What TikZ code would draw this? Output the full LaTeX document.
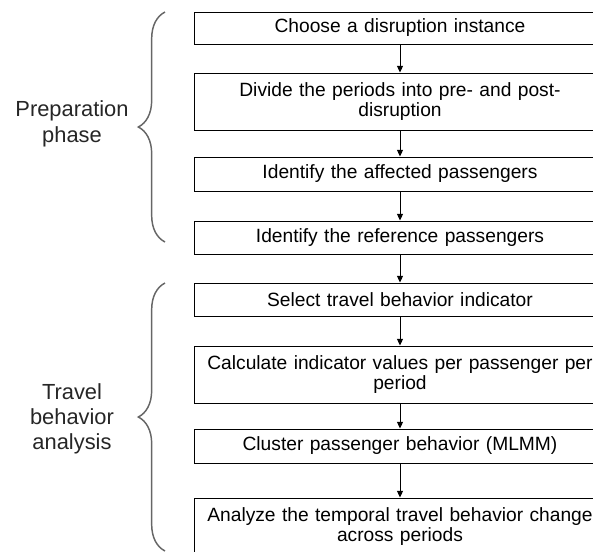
\documentclass[tikz,border=0pt]{standalone}
\usepackage{fontspec}
\setmainfont{Liberation Sans}
\usetikzlibrary{arrows.meta,decorations.pathreplacing}
\tikzset{
  stepbox/.style={draw,line width=0.75pt,minimum width=309pt,text width=300pt,
    align=center,inner sep=0pt,font=\fontsize{14.4}{15}\selectfont},
  flow/.style={line width=0.75pt,-{Triangle[length=5pt,width=4.5pt]}},
  phase/.style={align=center,text=black!85,font=\fontsize{16.4}{19}\selectfont},
  curly/.style={draw=black!60,line width=1.1pt,decorate,
    decoration={brace,amplitude=20pt}}
}
\begin{document}
\begin{tikzpicture}[x=0.75pt,y=-0.75pt]
\clip (0,0) rectangle (593,551);
\node[stepbox,minimum height=24pt] (s1) at (400,28) {Choose a disruption instance};
\node[stepbox,minimum height=42.75pt] (s2) at (400,101.5) {Divide the periods into pre- and post-\\disruption};
\node[stepbox,minimum height=25.5pt] (s3) at (400,174) {Identify the affected passengers};
\node[stepbox,minimum height=24.75pt] (s4) at (400,237.5) {Identify the reference passengers};
\node[stepbox,minimum height=24.75pt] (s5) at (400,299.5) {Select travel behavior indicator};
\node[stepbox,minimum height=42.75pt] (s6) at (400,374.5) {Calculate indicator values per passenger per\\period};
\node[stepbox,minimum height=25.5pt] (s7) at (400,446) {Cluster passenger behavior (MLMM)};
\node[stepbox,minimum height=42.75pt] (s8) at (400,526.5) {Analyze the temporal travel behavior change\\across periods};
\foreach \a/\b in {s1/s2,s2/s3,s3/s4,s4/s5,s5/s6,s6/s7,s7/s8}
  \draw[flow] (\a) -- (\b);
% phases
\node[phase] (prep) at (72,124) {Preparation\\phase};
\node[phase] (trav) at (72,419) {Travel\\behavior\\analysis};
\draw[curly] (165,242) -- (165,12);
\draw[curly] (165,551) -- (165,283);
\end{tikzpicture}
\end{document}
